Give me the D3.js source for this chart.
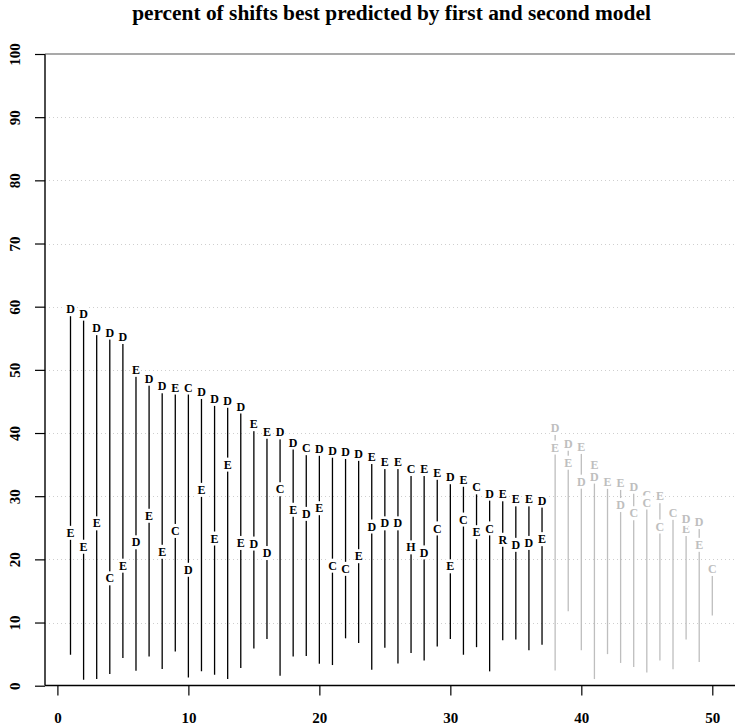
<!DOCTYPE html>
<html><head><meta charset="utf-8">
<script src="https://cdn.jsdelivr.net/npm/d3@7"></script>
<style>body{margin:0;background:#fff}svg{display:block}</style>
</head><body>
<svg id="c" width="735" height="728"></svg>
<script>
const idx = d3.range(1, 51);
const topLetters = ["D","D","D","D","D","E","D","D","E","C","D","D","D","D","E","E","D","D","C","D","D","D","D","E","E","E","C","E","E","D","E","C","D","E","E","E","D","D","D","E","E","E","E","D","C","E","C","D","D","C"];
const topValues = [59.6,58.9,56.6,55.9,55.2,50.0,48.6,47.4,47.2,47.2,46.5,45.4,45.1,44.2,41.4,40.2,40.1,38.5,37.6,37.5,37.2,37.0,36.7,36.2,35.4,35.4,34.3,34.3,33.7,33.0,32.6,31.4,30.4,30.3,29.5,29.5,29.3,40.8,38.3,37.8,35.0,32.3,32.1,31.5,29.0,30.0,27.4,26.4,25.9,18.5];
const midLetters = ["E","E","E","C","E","D","E","E","C","D","E","E","E","E","D","D","C","E","D","E","C","C","E","D","D","D","H","D","C","E","C","E","C","R","D","D","E","E","E","D","D","E","D","C","C","C","C","E","E","C"];
const midValues = [24.2,22.0,25.7,17.0,19.0,22.7,26.9,21.2,24.5,18.35,31.0,23.3,35.0,22.6,22.5,21.0,31.1,27.85,27.2,28.1,19.0,18.5,20.5,25.2,25.7,25.7,21.9,21.1,24.9,18.9,26.3,24.3,24.9,23.1,22.3,22.6,23.2,37.7,35.3,32.3,33.1,32.3,28.6,27.3,30.2,25.2,27.4,24.8,22.3,18.5];
const bottomValues = [4.9,0.95,1.05,1.85,4.4,2.37,4.64,2.64,5.43,1.3,2.27,1.74,1.05,2.8,5.9,7.4,1.58,4.64,4.7,3.48,3.27,7.5,6.75,2.53,6.0,3.5,5.17,4.0,6.2,7.4,4.9,6.1,2.27,7.2,7.3,5.6,6.5,2.4,11.8,5.6,1.05,5.0,3.6,2.95,2.1,4.0,2.6,7.3,3.75,11.1];
const groups = idx.map(i => i <= 37 ? "main" : "rest");
const xTicks = [0,10,20,30,40,50];
const yTicks = [0,10,20,30,40,50,60,70,80,90,100];
const gridValues = [10,20,30,40,50,60,70,80,90];
const titleText = "percent of shifts best predicted by first and second model";

const svg = d3.select("#c");
const W = 735, H = 728;
const x = d3.scaleLinear().domain([0,50]).range([57.4,712.3]);
const y = d3.scaleLinear().domain([0,100]).range([685.7,54]);
const color = d3.scaleOrdinal().domain(["main","rest"]).range(["#000000","#bebebe"]);
const serif = "'Liberation Serif','DejaVu Serif',serif";
const left = 45, bottom = 685.5;

// gridlines
svg.append("g").selectAll("line").data(gridValues).join("line")
  .attr("x1", left).attr("x2", W)
  .attr("y1", d => Math.round(y(d)) + 0.5).attr("y2", d => Math.round(y(d)) + 0.5)
  .attr("stroke", "#cfcfcf").attr("stroke-width", 1).attr("stroke-dasharray", "1,3");

// axes
const xAxis = svg.append("g").attr("transform", `translate(0,${bottom})`)
  .call(d3.axisBottom(x).tickValues(xTicks).tickSize(10).tickFormat(d3.format("d")));
xAxis.select(".domain").remove();
xAxis.selectAll("line").attr("stroke", "#000").attr("stroke-width", 1.2);
xAxis.selectAll("text").attr("y", 37.5).attr("dy", 0)
  .style("font-family", serif).style("font-weight", "bold").style("font-size", "15px").attr("fill", "#000");

const yAxis = svg.append("g").attr("transform", `translate(${left},0)`)
  .call(d3.axisLeft(y).tickValues(yTicks).tickSize(10).tickFormat(d3.format("d")));
yAxis.select(".domain").remove();
yAxis.selectAll("line").attr("stroke", "#000").attr("stroke-width", 1.2);
yAxis.selectAll("text").attr("x", 0).attr("y", -25).attr("dy", 0)
  .attr("transform", "rotate(-90)").attr("text-anchor", "middle")
  .style("font-family", serif).style("font-weight", "bold").style("font-size", "15px").attr("fill", "#000");

// box
svg.append("line").attr("x1", left).attr("x2", left).attr("y1", y(100)).attr("y2", bottom)
  .attr("stroke", "#000").attr("stroke-width", 1.4);
svg.append("line").attr("x1", left).attr("x2", W).attr("y1", bottom).attr("y2", bottom)
  .attr("stroke", "#000").attr("stroke-width", 1.4);
svg.append("line").attr("x1", left).attr("x2", W).attr("y1", y(100)).attr("y2", y(100))
  .attr("stroke", "#555").attr("stroke-width", 1.2);

// data
const data = idx.map((i, k) => ({
  i, g: groups[k],
  tl: topLetters[k], tv: topValues[k],
  ml: midLetters[k], mv: midValues[k],
  bv: bottomValues[k]
}));

svg.append("g").selectAll("line").data(data).join("line")
  .attr("x1", d => x(d.i)).attr("x2", d => x(d.i))
  .attr("y1", d => y(d.bv)).attr("y2", d => y(Math.max(d.tv, d.mv)))
  .attr("stroke", d => color(d.g)).attr("stroke-width", 1.3);

function drawLabels(letterKey, valueKey) {
  const g = svg.append("g");
  const items = g.selectAll("g").data(data).join("g")
    .attr("transform", d => `translate(${x(d.i)},${y(d[valueKey])})`);
  const rects = items.append("rect").attr("fill", "#fff");
  const texts = items.append("text")
    .attr("text-anchor", "middle").attr("y", 4.1)
    .style("font-family", serif).style("font-weight", "bold").style("font-size", "12px")
    .attr("fill", d => color(d.g))
    .text(d => d[letterKey]);
  texts.each(function(d) {
    const w = this.getComputedTextLength();
    d3.select(this.parentNode).select("rect")
      .attr("x", -w/2 - 1).attr("width", w + 2).attr("y", -7).attr("height", 14);
  });
}
drawLabels("ml", "mv");
drawLabels("tl", "tv");

// title
const t = svg.append("text").attr("x", (left + 738) / 2).attr("y", 20)
  .attr("text-anchor", "middle")
  .style("font-family", serif).style("font-weight", "bold").style("font-size", "17px")
  .attr("fill", "#000").text(titleText);
const tw = t.node().getComputedTextLength();
t.style("font-size", (17 * 519 / tw).toFixed(2) + "px");
</script>
</body></html>
